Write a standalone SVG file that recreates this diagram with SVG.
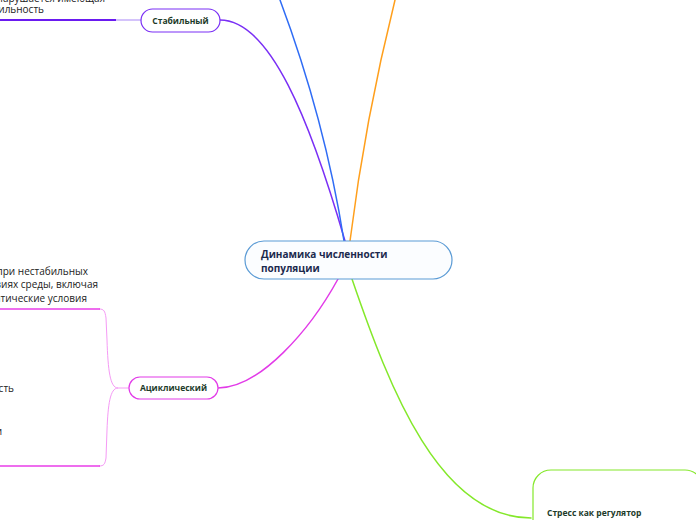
<svg xmlns="http://www.w3.org/2000/svg" width="696" height="520" viewBox="0 0 696 520">
<style>
.t{font-family:"Open Sans","Noto Sans","DejaVu Sans",sans-serif;font-size:10px;fill:#222}
.nb{font-family:"Open Sans","Noto Sans","DejaVu Sans",sans-serif;font-weight:bold;font-size:8.5px;fill:#1d3b2a}
.c{fill:none;stroke-width:1.5;stroke-linecap:round}
</style>
<rect width="696" height="520" fill="#fff"/>
<g id="connectors">
<path class="c" d="M220,20 C270,20 310,120 345,241" stroke="#7a2ff5"/>
<path class="c" d="M280,0 Q325,120 344,241" stroke="#2f6cf5"/>
<path class="c" d="M395,0 Q365,120 350,241" stroke="#ff9f1c"/>
<path class="c" d="M338,279 C310,330 260,388 218,388" stroke="#e23be8"/>
<path class="c" d="M352,279 C390,390 440,518 531,518" stroke="#84e82a"/>
<path d="M116,20 H141" stroke="#b89cf8" stroke-width="1.2" fill="none"/>
<path d="M0,20 H116" stroke="#6a1af0" stroke-width="1.8" fill="none"/>
<path d="M129,388 H118 C110,388 108,370 107,340 L106,318 C105,311 104,309 99,309" stroke="#f59af5" stroke-width="1" fill="none"/>
<path d="M118,388 C110,388 108,405 107,430 L106,458 C105,464 104,466 99,466" stroke="#f59af5" stroke-width="1" fill="none"/>
<path d="M0,309 H100" stroke="#e83ce8" stroke-width="1.6" fill="none"/>
<path d="M0,466 H100" stroke="#e83ce8" stroke-width="1.6" fill="none"/>
</g>
<g id="text-stable">
<text class="t" x="105" y="2" text-anchor="end">нарушается имеющая</text>
<text class="t" x="44" y="13" text-anchor="end">стабильность</text>
</g>
<g id="text-acyclic">
<text class="t" x="88" y="275" text-anchor="end">при нестабильных</text>
<text class="t" x="98" y="288" text-anchor="end">условиях среды, включая</text>
<text class="t" x="87" y="302" text-anchor="end">климатические условия</text>
<text class="t" x="14" y="392" text-anchor="end">сть</text>
<text class="t" x="2" y="435" text-anchor="end">и</text>
</g>
<g id="center">
<rect x="245" y="241" width="207" height="38" rx="19" fill="#fbfdff" stroke="#5b9bd5" stroke-width="1.2"/>
<text x="261" y="258" style="font-family:'Open Sans','Noto Sans',sans-serif;font-weight:bold;font-size:10px;fill:#1b2a4e">Динамика численности</text>
<text x="261" y="272" style="font-family:'Open Sans','Noto Sans',sans-serif;font-weight:bold;font-size:10px;fill:#1b2a4e">популяции</text>
</g>
<g id="stable">
<rect x="141" y="9" width="79" height="23" rx="11.5" fill="#fff" stroke="#7a2ff5" stroke-width="1.2"/>
<text class="nb" x="180.5" y="23.5" text-anchor="middle">Стабильный</text>
</g>
<g id="acyclic">
<rect x="129" y="377" width="89" height="22" rx="11" fill="#fff" stroke="#e23be8" stroke-width="1.2"/>
<text class="nb" x="173.5" y="391" text-anchor="middle">Ациклический</text>
</g>
<g id="stress">
<rect x="533" y="470" width="170" height="100" rx="18" fill="#fff" stroke="#84e82a" stroke-width="1.2"/>
<text class="nb" x="547" y="516">Стресс как регулятор</text>
</g>
</svg>
